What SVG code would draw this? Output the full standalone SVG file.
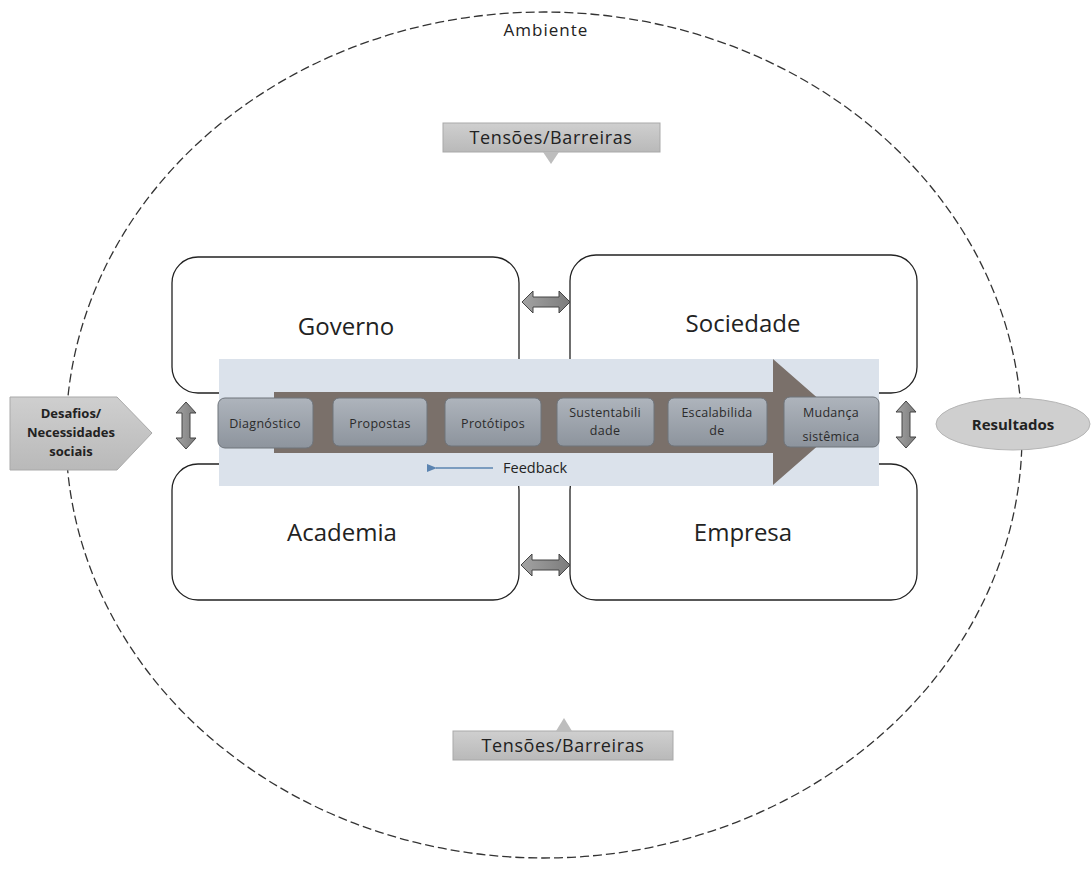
<svg xmlns="http://www.w3.org/2000/svg" width="1092" height="869" viewBox="0 0 1092 869">
  <defs>
    <linearGradient id="stepFill" x1="0" y1="0" x2="0" y2="1">
      <stop offset="0" stop-color="#aeb4bc"/>
      <stop offset="1" stop-color="#8d949d"/>
    </linearGradient>
    <linearGradient id="tagFill" x1="0" y1="0" x2="0" y2="1">
      <stop offset="0" stop-color="#cfcfcf"/>
      <stop offset="1" stop-color="#b9b9b9"/>
    </linearGradient>
    <linearGradient id="dblFill" x1="0" y1="0" x2="1" y2="0">
      <stop offset="0" stop-color="#a3a3a3"/>
      <stop offset="1" stop-color="#7c7c7c"/>
    </linearGradient>
    <marker id="blueHead" viewBox="0 0 10 10" refX="1" refY="5" markerWidth="7" markerHeight="7" orient="auto">
      <path d="M10,1 L0,5 L10,9 Z" fill="#5b84b1"/>
    </marker>
  </defs>
  <style>
    .lbl { font-family: "Open Sans", "Noto Sans", "Liberation Sans", sans-serif; fill: #222; }
    .sector { fill: #ffffff; stroke: #222; stroke-width: 1.3; }
    .sector-t { font-size: 24px; text-anchor: middle; }
    .step { fill: url(#stepFill); stroke: #6e747b; stroke-width: 1; }
    .step-t { font-size: 12.5px; letter-spacing: 0.3px; text-anchor: middle; fill: #2b2b2b; }
    .tag { fill: url(#tagFill); stroke: #a9a9a9; stroke-width: 1; }
    .tag-t { font-size: 18px; letter-spacing: 0.6px; text-anchor: middle; }
    .dbl { fill: url(#dblFill); stroke: #444; stroke-width: 1; }
  </style>

  <rect width="1092" height="869" fill="#ffffff"/>

  <!-- environment boundary -->
  <g id="ambiente">
    <ellipse cx="544" cy="435" rx="478" ry="423" fill="none" stroke="#333" stroke-width="1.3" stroke-dasharray="9 4"/>
    <text class="lbl" x="546" y="36" font-size="17" letter-spacing="1" text-anchor="middle">Ambiente</text>
  </g>

  <!-- tensions -->
  <g id="tensoes-topo">
    <rect class="tag" x="443" y="123" width="217" height="29"/>
    <path d="M543,152 L559,152 L551,164 Z" fill="#bdbdbd"/>
    <text class="lbl tag-t" x="551" y="144">Tensões/Barreiras</text>
  </g>
  <g id="tensoes-base">
    <rect class="tag" x="453" y="731" width="220" height="29"/>
    <path d="M556,731 L572,731 L564,718 Z" fill="#bdbdbd"/>
    <text class="lbl tag-t" x="563" y="752">Tensões/Barreiras</text>
  </g>

  <!-- sectors -->
  <g id="governo">
    <rect class="sector" x="172" y="257" width="347" height="136" rx="26"/>
    <text class="lbl sector-t" x="346" y="335">Governo</text>
  </g>
  <g id="sociedade">
    <rect class="sector" x="570" y="255" width="347" height="138" rx="26"/>
    <text class="lbl sector-t" x="743" y="332">Sociedade</text>
  </g>
  <g id="academia">
    <rect class="sector" x="172" y="464" width="347" height="136" rx="26"/>
    <text class="lbl sector-t" x="342" y="541">Academia</text>
  </g>
  <g id="empresa">
    <rect class="sector" x="570" y="464" width="347" height="136" rx="26"/>
    <text class="lbl sector-t" x="743" y="541">Empresa</text>
  </g>

  <!-- process band -->
  <g id="processo">
    <rect x="219" y="359" width="660" height="127" fill="#dbe2eb"/>
    <path d="M274,392 H773 V359 L845,422 L773,485 V453 H274 Z" fill="#7a706a"/>
  </g>

  <g id="diagnostico">
    <rect class="step" x="218" y="398" width="95" height="50" rx="7"/>
    <text class="lbl step-t" x="265" y="428">Diagnóstico</text>
  </g>
  <g id="propostas">
    <rect class="step" x="333" y="398" width="94" height="48" rx="6"/>
    <text class="lbl step-t" x="380" y="428">Propostas</text>
  </g>
  <g id="prototipos">
    <rect class="step" x="445" y="398" width="96" height="48" rx="6"/>
    <text class="lbl step-t" x="493" y="428">Protótipos</text>
  </g>
  <g id="sustentabilidade">
    <rect class="step" x="557" y="398" width="97" height="48" rx="6"/>
    <text class="lbl step-t" x="605" y="417">Sustentabili</text>
    <text class="lbl step-t" x="605" y="435">dade</text>
  </g>
  <g id="escalabilidade">
    <rect class="step" x="668" y="398" width="99" height="48" rx="6"/>
    <text class="lbl step-t" x="717" y="417">Escalabilida</text>
    <text class="lbl step-t" x="717" y="435">de</text>
  </g>
  <g id="mudanca">
    <rect class="step" x="784" y="397" width="95" height="50" rx="6"/>
    <text class="lbl step-t" x="831" y="417">Mudança</text>
    <text class="lbl step-t" x="831" y="441">sistêmica</text>
  </g>

  <g id="feedback">
    <text class="lbl" x="503" y="473" font-size="14.5">Feedback</text>
  </g>

  <!-- inputs / outputs -->
  <g id="desafios">
    <path class="tag" d="M10,397 H117 L152,433 L117,470 H10 Z"/>
    <text class="lbl" x="71" y="418" font-size="13" font-weight="bold" text-anchor="middle">Desafios/</text>
    <text class="lbl" x="71" y="437" font-size="13" font-weight="bold" text-anchor="middle">Necessidades</text>
    <text class="lbl" x="71" y="456" font-size="13" font-weight="bold" text-anchor="middle">sociais</text>
  </g>
  <g id="resultados">
    <ellipse cx="1013" cy="424" rx="77" ry="26" fill="#cfcfcf" stroke="#b5b5b5" stroke-width="1"/>
    <text class="lbl" x="1013" y="430" font-size="15" font-weight="bold" text-anchor="middle">Resultados</text>
  </g>

  <!-- connectors -->
  <g id="conectores">
    <line x1="493" y1="468" x2="436" y2="468" stroke="#5b84b1" stroke-width="1.5" marker-end="url(#blueHead)"/>
    <!-- vertical double arrows -->
    <path class="dbl" d="M186,402 L196,413 H190 V438 H196 L186,449 L176,438 H182 V413 H176 Z"/>
    <path class="dbl" d="M906,401 L916,412 H910 V437 H916 L906,448 L896,437 H902 V412 H896 Z"/>
    <!-- horizontal double arrows -->
    <path class="dbl" d="M522,302 L533,291 V297 H559 V291 L570,302 L559,313 V307 H533 V313 Z"/>
    <path class="dbl" d="M521,565 L532,554 V560 H559 V554 L570,565 L559,576 V570 H532 V576 Z"/>
  </g>
</svg>
